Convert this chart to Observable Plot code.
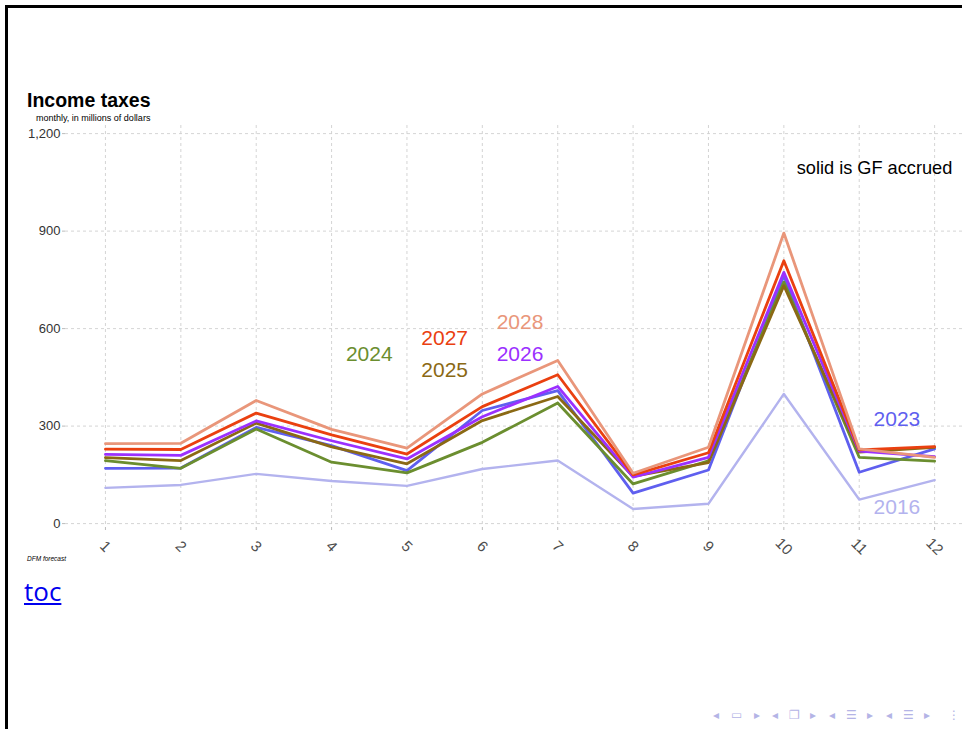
<!DOCTYPE html>
<html><head><meta charset="utf-8">
<script src="https://cdn.jsdelivr.net/npm/d3@7"></script>
<script src="https://cdn.jsdelivr.net/npm/@observablehq/plot@0.6"></script>
<style>
html,body{margin:0;padding:0;overflow:hidden;background:#fff;width:962px;height:729px;}
#frame{position:absolute;left:5px;top:5px;width:1000px;height:800px;border-left:3px solid #000;border-top:3px solid #000;}
.abs{position:absolute;white-space:nowrap;}
#title{left:27px;top:90.5px;font:bold 19.5px/19.5px "Liberation Sans",Arial,sans-serif;color:#000;}
#subtitle{left:36px;top:113.5px;font:9px/9px "Liberation Sans",Arial,sans-serif;color:#000;}
#caption{left:27px;top:556px;font:italic 6.5px/6.5px "Liberation Sans",Arial,sans-serif;color:#000;}
#toc{left:24px;top:576px;font:26px/30px "Open Sans",sans-serif;color:#0000ee;text-decoration:underline;}
#chart{position:absolute;left:0;top:120px;}
.nav{position:absolute;top:708px;font:12px/14px "DejaVu Sans",sans-serif;color:#b4b4e6;}
</style></head><body>
<div id="frame"></div>
<div id="title" class="abs">Income taxes</div>
<div id="subtitle" class="abs">monthly, in millions of dollars</div>
<div id="chart"></div>
<div id="caption" class="abs">DFM forecast</div>
<a id="toc" class="abs" href="#">toc</a>
<div id="navbar"></div>
<script>
// ---- data ----
const months = [1,2,3,4,5,6,7,8,9,10,11,12];
const years = ["2016","2023","2024","2025","2026","2027","2028"];
const yearColors = ["#b3b3ee","#5f5fef","#6b8e2f","#8b6914","#9b30ff","#ea4010","#e9967a"];
const v2016 = [110,119,153,131,116,168,194,45,61,399,74,134];
const v2023 = [170,171,296,240,163,348,409,94,165,763,158,230];
const v2024 = [194,170,291,189,156,250,371,122,193,743,204,192];
const v2025 = [203,194,309,236,184,317,391,145,188,732,220,235];
const v2026 = [213,210,316,255,199,329,422,143,204,773,223,206];
const v2027 = [229,228,340,273,214,360,458,150,218,809,227,237];
const v2028 = [246,247,379,290,232,399,502,155,235,894,230,204];
const yTicks = [0,300,600,900,1200];
const labelYears = ["2024","2027","2025","2028","2026","2023","2016"];
const labelMonth = [4.5,5.5,5.5,6.5,6.5,11.5,11.5];
const labelValue = [520,571,472,618,521,322,49];
const noteText = ["solid is GF accrued"];
const noteMonth = [10.17];
const noteValue = [1093];

// ---- build tables ----
const seriesValues = [v2016,v2023,v2024,v2025,v2026,v2027,v2028];
const rows = [];
years.forEach((y,i)=>months.forEach((m,j)=>rows.push({year:y, month:m, value:seriesValues[i][j]})));
const labels = labelYears.map((y,i)=>({year:y, month:labelMonth[i], value:labelValue[i]}));
const notes = noteText.map((t,i)=>({text:t, month:noteMonth[i], value:noteValue[i]}));

const gridStyle = {stroke:"#cfcfcf", strokeOpacity:1, strokeWidth:0.9, strokeDasharray:"3,3"};
const plot = Plot.plot({
  width: 962, height: 447,
  marginLeft: 65, marginRight: 0, marginTop: 5, marginBottom: 40,
  x: {domain: [0.47, 12.37]},
  y: {domain: [-12, 1225]},
  color: {domain: years, range: yearColors},
  style: {fontFamily: "'Liberation Sans', Arial, sans-serif", background: "transparent", overflow: "visible"},
  marks: [
    Plot.gridX(months, gridStyle),
    Plot.gridY(yTicks, gridStyle),
    Plot.axisY(yTicks, {tickSize: 3, tickPadding: 2, tickFormat: d3.format(","), fontSize: 13, fill: "#333", stroke: "#bbb", label: null}),
    Plot.axisX(months, {tickSize: 3, tickPadding: 16, tickRotate: 45, textAnchor: "middle", lineAnchor: "middle", fontSize: 15, fill: "#4d4d4d", stroke: "#bbb", label: null}),
    Plot.line(rows.filter(d=>d.year==="2016"), {x:"month", y:"value", z:"year", stroke:"year", strokeWidth:2.4}),
    Plot.line(rows.filter(d=>d.year!=="2016"), {x:"month", y:"value", z:"year", stroke:"year", strokeWidth:2.8}),
    Plot.text(labels, {x:"month", y:"value", text:"year", fill:"year", fontSize:21, textAnchor:"middle", lineAnchor:"middle"}),
    Plot.text(notes, {x:"month", y:"value", text:"text", fill:"#000", fontSize:18.2, textAnchor:"start", lineAnchor:"middle"})
  ]
});
document.getElementById("chart").appendChild(plot);

// beamer navigation symbols
const navSyms = ["◂","▭","▸","◂","❐","▸","◂","☰","▸","◂","☰","▸","⋮"];
const navX = [713,731,754,772,789,810,829,846,867,886,903,924,948];
const nb = document.getElementById("navbar");
navSyms.forEach((s,i)=>{const e=document.createElement("div");e.className="nav";e.style.left=navX[i]+"px";e.textContent=s;nb.appendChild(e);});
</script>
</body></html>
